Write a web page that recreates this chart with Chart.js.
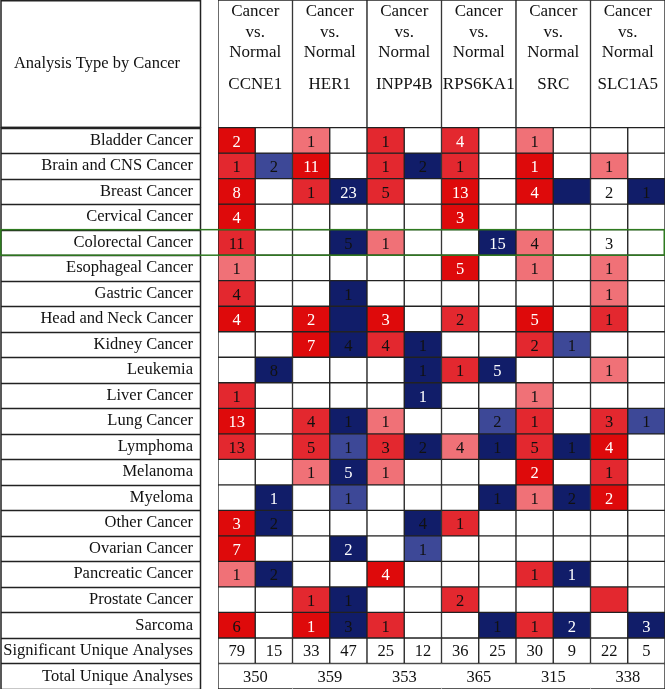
<!DOCTYPE html>
<html>
<head>
<meta charset="utf-8">
<script src="https://cdn.jsdelivr.net/npm/chart.js@4.4.0/dist/chart.umd.min.js"></script>
<style>
  html, body { margin: 0; padding: 0; background: #fff; }
  #wrap { width: 665px; height: 689px; }
</style>
</head>
<body>
<div id="wrap"><canvas id="heatmap" width="665" height="689"></canvas></div>
<script>
// rows of the table
const cancers = [
  'Bladder Cancer', 'Brain and CNS Cancer', 'Breast Cancer', 'Cervical Cancer',
  'Colorectal Cancer', 'Esophageal Cancer', 'Gastric Cancer', 'Head and Neck Cancer',
  'Kidney Cancer', 'Leukemia', 'Liver Cancer', 'Lung Cancer', 'Lymphoma', 'Melanoma',
  'Myeloma', 'Other Cancer', 'Ovarian Cancer', 'Pancreatic Cancer', 'Prostate Cancer', 'Sarcoma'
];
const summaryRows = ['Significant Unique Analyses', 'Total Unique Analyses'];
const genes = ['CCNE1', 'HER1', 'INPP4B', 'RPS6KA1', 'SRC', 'SLC1A5'];
// two columns per gene: over-expressed, under-expressed
const analysisCols = genes.flatMap(g => [g + ' up', g + ' down']);

// gene rank grade: 3/2/1 = over-expression (darkest to lightest), -3/-2 = under-expression, 0 = none
const grades = [
  [3, 0, 1, 0, 2, 0, 2, 0, 1, 0, 0, 0],
  [2, -2, 3, 0, 2, -3, 2, 0, 3, 0, 1, 0],
  [3, 0, 2, -3, 2, 0, 3, 0, 3, -3, 0, -3],
  [3, 0, 0, 0, 0, 0, 3, 0, 0, 0, 0, 0],
  [2, 0, 0, -3, 1, 0, 0, -3, 1, 0, 0, 0],
  [1, 0, 0, 0, 0, 0, 3, 0, 1, 0, 1, 0],
  [2, 0, 0, -3, 0, 0, 0, 0, 0, 0, 1, 0],
  [3, 0, 3, -3, 3, 0, 2, 0, 3, 0, 2, 0],
  [0, 0, 3, -3, 2, -3, 0, 0, 2, -2, 0, 0],
  [0, -3, 0, 0, 0, -3, 2, -3, 0, 0, 1, 0],
  [2, 0, 0, 0, 0, -3, 0, 0, 1, 0, 0, 0],
  [3, 0, 2, -3, 1, 0, 0, -2, 2, 0, 2, -2],
  [2, 0, 2, -2, 2, -3, 1, -3, 2, -3, 3, 0],
  [0, 0, 1, -3, 1, 0, 0, 0, 3, 0, 2, 0],
  [0, -3, 0, -2, 0, 0, 0, -3, 1, -3, 3, 0],
  [3, -3, 0, 0, 0, -3, 2, 0, 0, 0, 0, 0],
  [3, 0, 0, -3, 0, -2, 0, 0, 0, 0, 0, 0],
  [1, -3, 0, 0, 3, 0, 0, 0, 2, -3, 0, 0],
  [0, 0, 2, -3, 0, 0, 2, 0, 0, 0, 2, 0],
  [3, 0, 3, -3, 2, 0, 0, -3, 2, -3, 0, -3]
];

// number of analyses shown in each cell (null = blank)
const n = null;
const counts = [
  [2, n, 1, n, 1, n, 4, n, 1, n, n, n],
  [1, 2, 11, n, 1, 2, 1, n, 1, n, 1, n],
  [8, n, 1, 23, 5, n, 13, n, 4, n, 2, 1],
  [4, n, n, n, n, n, 3, n, n, n, n, n],
  [11, n, n, 5, 1, n, n, 15, 4, n, 3, n],
  [1, n, n, n, n, n, 5, n, 1, n, 1, n],
  [4, n, n, 1, n, n, n, n, n, n, 1, n],
  [4, n, 2, n, 3, n, 2, n, 5, n, 1, n],
  [n, n, 7, 4, 4, 1, n, n, 2, 1, n, n],
  [n, 8, n, n, n, 1, 1, 5, n, n, 1, n],
  [1, n, n, n, n, 1, n, n, 1, n, n, n],
  [13, n, 4, 1, 1, n, n, 2, 1, n, 3, 1],
  [13, n, 5, 1, 3, 2, 4, 1, 5, 1, 4, n],
  [n, n, 1, 5, 1, n, n, n, 2, n, 1, n],
  [n, 1, n, 1, n, n, n, 1, 1, 2, 2, n],
  [3, 2, n, n, n, 4, 1, n, n, n, n, n],
  [7, n, n, 2, n, 1, n, n, n, n, n, n],
  [1, 2, n, n, 4, n, n, n, 1, 1, n, n],
  [n, n, 1, 1, n, n, 2, n, n, n, n, n],
  [6, n, 1, 3, 1, n, n, 1, 1, 2, n, 3]
];

// columns whose number is printed in white
const whiteText = [
  [0, 6], [2, 8], [0, 3, 6, 8], [0, 6], [7], [6], [], [0, 2, 4, 8], [2], [7],
  [5], [0], [10], [3, 8], [1, 10], [0], [0, 3], [4, 9], [], [2, 9, 11]
];

const significant = [79, 15, 33, 47, 25, 12, 36, 25, 30, 9, 22, 5];
const totals = [350, 359, 353, 365, 315, 338];

const gradeColors = {
  '3': '#de0a0b', '2': '#e3282f', '1': '#f07177', '0': '#ffffff',
  '-2': '#3d4897', '-3': '#111d69'
};
const LINE = '#222222';
const SERIF = '"Liberation Serif", "Times New Roman", serif';
const rowLabels = cancers.concat(summaryRows);

// datasets: one per cancer row, then the two summary rows, then the header boxes
const datasets = cancers.map((c, r) => ({
  label: c,
  data: analysisCols.map(() => [r, r + 1]),
  backgroundColor: grades[r].map(g => gradeColors[g]),
  xAxisID: 'x'
}));
datasets.push({
  label: summaryRows[0],
  data: analysisCols.map(() => [20, 21]),
  backgroundColor: '#ffffff',
  xAxisID: 'x'
});
datasets.push({
  label: summaryRows[1],
  data: genes.map(() => [21, 22]),
  backgroundColor: '#ffffff',
  xAxisID: 'x2',
  borderWidth: ctx => ({ top: 1, bottom: 1, left: ctx.dataIndex === 0 ? 1 : 0, right: ctx.dataIndex === genes.length - 1 ? 1 : 0 })
});
datasets.push({
  label: 'header',
  data: genes.map(() => [-5, 0]),
  backgroundColor: '#ffffff',
  xAxisID: 'x2'
});

const tablePlugin = {
  id: 'tableText',
  afterDraw(chart) {
    const ctx = chart.ctx;
    const y = chart.scales.y, x2 = chart.scales.x2;
    const area = chart.chartArea;
    ctx.save();
    ctx.font = '16.5px ' + SERIF;
    ctx.textAlign = 'center';
    ctx.textBaseline = 'middle';

    // numbers in the heat map cells
    cancers.forEach((c, r) => {
      chart.getDatasetMeta(r).data.forEach((bar, i) => {
        if (counts[r][i] == null) return;
        const p = bar.getCenterPoint();
        ctx.fillStyle = whiteText[r].includes(i) ? '#ffffff' : '#111111';
        ctx.fillText(String(counts[r][i]), p.x, p.y + 2);
      });
    });
    ctx.fillStyle = '#111111';
    chart.getDatasetMeta(cancers.length).data.forEach((bar, i) => {
      const p = bar.getCenterPoint();
      ctx.fillText(String(significant[i]), p.x, p.y + 1);
    });
    chart.getDatasetMeta(cancers.length + 1).data.forEach((bar, i) => {
      const p = bar.getCenterPoint();
      ctx.fillText(String(totals[i]), p.x, p.y + 1);
    });

    // column headers
    ctx.font = '17px ' + SERIF;
    genes.forEach((g, i) => {
      const cx = x2.getPixelForValue(i);
      ['Cancer', 'vs.', 'Normal'].forEach((t, k) => {
        ctx.fillText(t, cx, y.getPixelForValue(-4.53 + k * 0.79));
      });
      ctx.fillText(g, cx, y.getPixelForValue(-1.67));
    });

    // left panel: header box and one box per row label
    ctx.font = '16.5px ' + SERIF;
    const left = 1, right = 200.5;
    ctx.strokeStyle = LINE;
    ctx.lineWidth = 1.5;
    ctx.strokeRect(left, y.getPixelForValue(-5) + 0.75, right - left, y.getPixelForValue(0) - y.getPixelForValue(-5) - 1);
    ctx.beginPath();
    for (let i = 0; i <= rowLabels.length; i++) {
      const py = Math.round(y.getPixelForValue(i)) + 0.5;
      ctx.moveTo(left, py);
      ctx.lineTo(right, py);
    }
    ctx.moveTo(left, y.getPixelForValue(0));
    ctx.lineTo(left, area.bottom);
    ctx.moveTo(right, y.getPixelForValue(0));
    ctx.lineTo(right, area.bottom);
    ctx.stroke();
    ctx.fillText('Analysis Type by Cancer', 97, y.getPixelForValue(-2.5));

    // highlighted colorectal row
    const hi = cancers.indexOf('Colorectal Cancer');
    ctx.strokeStyle = '#2f7a20';
    ctx.lineWidth = 1.5;
    const top = y.getPixelForValue(hi), bottom = y.getPixelForValue(hi + 1);
    ctx.strokeRect(0.75, top, area.right - 1.5, bottom - top);
    ctx.restore();
  }
};

new Chart(document.getElementById('heatmap'), {
  type: 'bar',
  data: { labels: analysisCols, datasets: datasets },
  options: {
    responsive: false,
    animation: false,
    devicePixelRatio: 1,
    layout: { padding: 0 },
    datasets: {
      bar: {
        grouped: false,
        barPercentage: 1,
        categoryPercentage: 1,
        borderColor: LINE,
        borderWidth: 1,
        borderSkipped: false
      }
    },
    scales: {
      x: { type: 'category', labels: analysisCols, display: false, offset: true },
      x2: { type: 'category', labels: genes, display: false, offset: true },
      y: {
        type: 'linear',
        reverse: true,
        min: -5,
        max: 22,
        grid: { display: false, drawTicks: false },
        border: { display: false },
        afterBuildTicks: s => { s.ticks = rowLabels.map((l, i) => ({ value: i + 0.5 })); },
        afterFit: s => { s.width = 218; s.paddingTop = 0; s.paddingBottom = 0; },
        ticks: {
          autoSkip: false,
          padding: 25,
          color: '#111111',
          font: { family: SERIF, size: 16.5 },
          callback: (v, i) => rowLabels[i]
        }
      }
    },
    plugins: {
      legend: { display: false },
      tooltip: { enabled: false }
    }
  },
  plugins: [tablePlugin]
});
</script>
</body>
</html>
